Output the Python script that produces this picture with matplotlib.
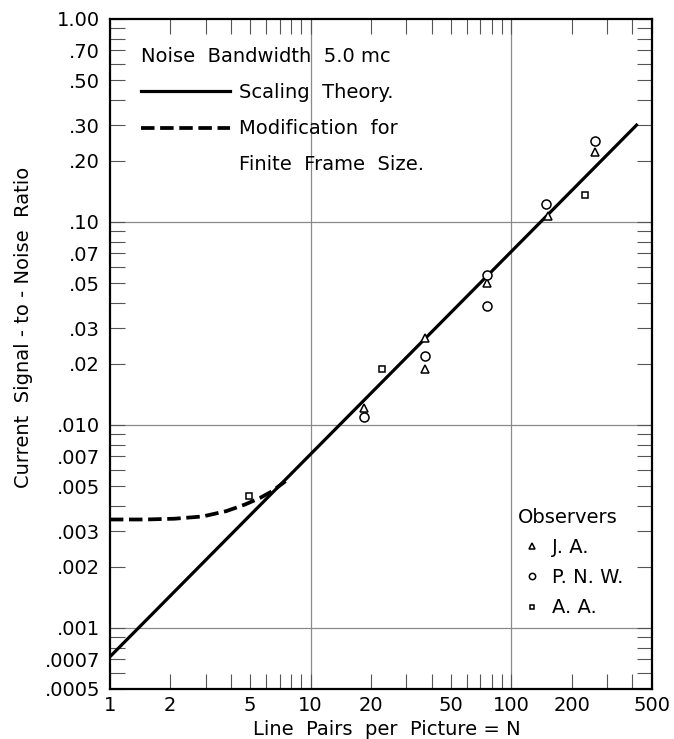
import matplotlib
matplotlib.use("Agg")
import matplotlib.pyplot as plt
from matplotlib.lines import Line2D
from matplotlib.ticker import FixedLocator, FixedFormatter, NullFormatter

plt.rcParams['font.family'] = ['DejaVu Sans']

# scaling theory line (read at ends of the drawn line)
theory_n = [1, 420]
theory_snr = [0.00072, 0.30]

# modification for finite frame size
finite_n = [1.0, 1.5, 2.1, 2.9, 3.8, 4.7, 5.6, 6.4, 7.5]
finite_snr = [0.00342, 0.00342, 0.00345, 0.00354, 0.00376, 0.00405, 0.00437, 0.00470, 0.00528]

# observers
ja_n = [18.4, 37.3, 37.3, 75.5, 152, 260]
ja_snr = [0.0121, 0.0268, 0.0189, 0.050, 0.107, 0.220]
pnw_n = [18.4, 37.3, 75.5, 75.5, 149, 260]
pnw_snr = [0.0109, 0.0219, 0.055, 0.0384, 0.122, 0.250]
aa_n = [4.95, 22.6, 232]
aa_snr = [0.00445, 0.0189, 0.136]

x_major = [1, 2, 5, 10, 20, 50, 100, 200, 500]
x_labels = ['1', '2', '5', '10', '20', '50', '100', '200', '500']
x_minor = [3, 4, 6, 7, 8, 9, 30, 40, 60, 70, 80, 90, 300, 400]
y_major = [0.0005, 0.0007, 0.001, 0.002, 0.003, 0.005, 0.007, 0.01, 0.02,
           0.03, 0.05, 0.07, 0.1, 0.2, 0.3, 0.5, 0.7, 1.0]
y_labels = ['.0005', '.0007', '.001', '.002', '.003', '.005', '.007', '.010', '.02',
            '.03', '.05', '.07', '.10', '.20', '.30', '.50', '.70', '1.00']
y_minor = [0.0006, 0.0008, 0.0009, 0.004, 0.006, 0.008, 0.009,
           0.04, 0.06, 0.08, 0.09, 0.4, 0.6, 0.8, 0.9]
x_grid = [10, 100]
y_grid = [0.001, 0.01, 0.1]

fig = plt.figure(figsize=(6.74, 7.39), dpi=100)
ax = fig.add_axes([0.163, 0.0677, 0.804, 0.9066])
ax.set_xscale('log')
ax.set_yscale('log')
ax.set_xlim(1, 500)
ax.set_ylim(0.0005, 1.0)

for g in x_grid:
    ax.axvline(g, color='#8a8a8a', lw=0.9, zorder=1)
for g in y_grid:
    ax.axhline(g, color='#8a8a8a', lw=0.9, zorder=1)

solid, = ax.plot(theory_n, theory_snr, color='black', lw=2.3, zorder=3)
dashed, = ax.plot(finite_n, finite_snr, color='black', lw=2.7,
                  linestyle=(0, (3.6, 1.5)), zorder=3)

mk = dict(linestyle='none', markerfacecolor='white', markeredgecolor='black',
          markeredgewidth=1.1, zorder=4)
ja, = ax.plot(ja_n, ja_snr, marker='^', markersize=6, **mk)
pnw, = ax.plot(pnw_n, pnw_snr, marker='o', markersize=6.5, **mk)
aa, = ax.plot(aa_n, aa_snr, marker='s', markersize=5, **mk)

ax.xaxis.set_major_locator(FixedLocator(x_major))
ax.xaxis.set_major_formatter(FixedFormatter(x_labels))
ax.xaxis.set_minor_locator(FixedLocator(x_minor))
ax.xaxis.set_minor_formatter(NullFormatter())
ax.yaxis.set_major_locator(FixedLocator(y_major))
ax.yaxis.set_major_formatter(FixedFormatter(y_labels))
ax.yaxis.set_minor_locator(FixedLocator(y_minor))
ax.yaxis.set_minor_formatter(NullFormatter())

ax.tick_params(which='both', direction='in', top=True, right=True,
               length=11, width=0.8, color='#555555', labelsize=14)
ax.tick_params(axis='x', pad=5)
ax.tick_params(axis='y', pad=7)
for s in ax.spines.values():
    s.set_linewidth(1.6)

ax.set_xlabel('Line  Pairs  per  Picture = N', fontsize=14)
ax.xaxis.set_label_coords(0.511, -0.046)
ax.set_ylabel('Current  Signal - to - Noise  Ratio', fontsize=14)
ax.yaxis.set_label_coords(-0.142, 0.54)

blank = Line2D([], [], color='none')
leg1 = ax.legend([solid, dashed, blank],
                 ['Scaling  Theory.', 'Modification  for', 'Finite  Frame  Size.'],
                 title='Noise  Bandwidth  5.0 mc', title_fontsize=14, fontsize=14,
                 loc='upper left', bbox_to_anchor=(0.057, 0.958), frameon=False,
                 borderpad=0, handlelength=4.6, handletextpad=0.45,
                 labelspacing=0.88, alignment='left', borderaxespad=0)
ax.add_artist(leg1)

ax.legend([ja, pnw, aa], ['J. A.', 'P. N. W.', 'A. A.'],
          title='Observers', title_fontsize=14, fontsize=14,
          loc='upper left', bbox_to_anchor=(0.753, 0.27), frameon=False,
          borderpad=0, handlelength=1.4, handletextpad=0.35, markerscale=0.7,
          labelspacing=0.57, alignment='left', borderaxespad=0, numpoints=1)

fig.savefig('out.png', dpi=100)
